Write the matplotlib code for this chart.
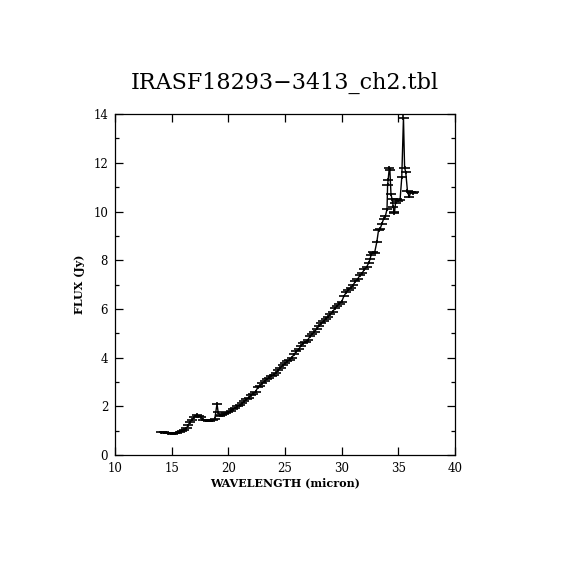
import numpy as np
import matplotlib
matplotlib.use("Agg")
import matplotlib.pyplot as plt

# spectrum (wavelength in micron, flux in Jy)
wavelength = [
    14.1, 14.3, 14.5, 14.7, 14.9, 15.1, 15.3, 15.5, 15.7, 15.9,
    16.1, 16.3, 16.45, 16.6, 16.8, 17.0, 17.2, 17.4, 17.6, 17.8,
    18.0, 18.2, 18.4, 18.6, 18.8, 19.0, 19.1, 19.25, 19.4, 19.6, 19.8,
    20.0, 20.2, 20.4, 20.6, 20.8, 21.0, 21.2, 21.4, 21.6, 21.8,
    22.0, 22.2, 22.4, 22.6, 22.8, 23.0, 23.2, 23.4, 23.6, 23.8,
    24.0, 24.2, 24.4, 24.6, 24.8, 25.0, 25.2, 25.4, 25.6, 25.8,
    26.0, 26.2, 26.4, 26.6, 26.8, 27.0, 27.2, 27.4, 27.6, 27.8,
    28.0, 28.2, 28.4, 28.6, 28.8, 29.0, 29.2, 29.4, 29.6, 29.8,
    30.0, 30.2, 30.4, 30.6, 30.8, 31.0, 31.2, 31.4, 31.6, 31.8,
    32.0, 32.2, 32.4, 32.5, 32.6, 32.75, 32.9, 33.1, 33.25, 33.4,
    33.55, 33.7, 33.85, 34.0, 34.05, 34.1, 34.2, 34.25, 34.35, 34.45,
    34.55, 34.6, 34.65, 34.75, 34.85, 35.0, 35.15, 35.3, 35.45, 35.55,
    35.65, 35.8, 35.95, 36.1, 36.25, 36.4,
]
flux = [
    0.93, 0.93, 0.91, 0.90, 0.89, 0.88, 0.89, 0.92, 0.96, 1.00,
    1.03, 1.10, 1.22, 1.35, 1.45, 1.55, 1.65, 1.60, 1.55, 1.45,
    1.42, 1.40, 1.40, 1.42, 1.48, 2.10, 1.75, 1.62, 1.63, 1.68, 1.72,
    1.76, 1.82, 1.88, 1.93, 2.00, 2.05, 2.12, 2.20, 2.28, 2.36,
    2.45, 2.52, 2.60, 2.78, 2.85, 2.95, 3.03, 3.12, 3.17, 3.25,
    3.30, 3.37, 3.48, 3.59, 3.68, 3.76, 3.84, 3.92, 4.00, 4.14,
    4.25, 4.34, 4.48, 4.58, 4.64, 4.72, 4.87, 4.97, 5.06, 5.18,
    5.30, 5.40, 5.50, 5.60, 5.68, 5.78, 5.88, 6.02, 6.12, 6.22,
    6.30, 6.53, 6.68, 6.78, 6.87, 6.97, 7.13, 7.22, 7.38, 7.47,
    7.62, 7.72, 7.90, 8.05, 8.22, 8.32, 8.30, 8.75, 9.23, 9.30,
    9.50, 9.70, 9.80, 10.10, 11.10, 11.30, 11.80, 11.72, 10.70, 10.50,
    10.20, 10.00, 9.92, 10.35, 10.50, 10.45, 10.48, 11.40, 13.85, 11.80,
    11.62, 10.85, 10.60, 10.80, 10.75, 10.80,
]
flux_err = [0.06] * len(flux)
flux_err[wavelength.index(35.45)] = 0.1
bin_half_width = 0.45

plt.rcParams['font.family'] = ['DejaVu Serif']

fig = plt.figure(figsize=(5.7, 5.7), dpi=100)
ax = fig.add_axes([0.2018, 0.2018, 0.5965, 0.598])

ax.plot(wavelength, flux, color='black', lw=1.0)
ax.errorbar(wavelength, flux, xerr=bin_half_width, yerr=flux_err,
            fmt='none', ecolor='black', elinewidth=1.2, capsize=0)

ax.set_xlim(10, 40)
ax.set_ylim(0, 14)
ax.set_xticks([10, 15, 20, 25, 30, 35, 40])
ax.set_yticks([0, 2, 4, 6, 8, 10, 12, 14])
ax.set_yticks(np.arange(1, 14, 2), minor=True)
ax.tick_params(which='both', direction='in', top=True, right=True,
               labelsize=8.5, width=0.9)
ax.tick_params(which='major', length=6, pad=5)
ax.tick_params(which='minor', length=3)
for s in ax.spines.values():
    s.set_linewidth(0.9)

ax.set_xlabel('WAVELENGTH (micron)', fontsize=8, fontweight='bold', labelpad=2)
ax.set_ylabel('FLUX (Jy)', fontsize=8, fontweight='bold', labelpad=6)
fig.text(0.5, 0.855, 'IRASF18293\u22123413_ch2.tbl', ha='center', va='center',
         fontsize=16)

fig.savefig('out.png', dpi=100)
